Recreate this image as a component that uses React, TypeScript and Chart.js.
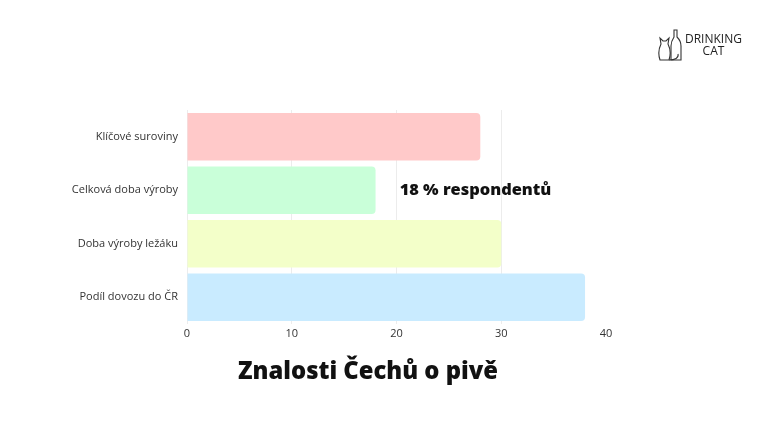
import React, { useEffect, useRef } from "react";
import { Chart, registerables } from "chart.js";

Chart.register(...registerables);

const categories = ["Klíčové suroviny", "Celková doba výroby", "Doba výroby ležáku", "Podíl dovozu do ČR"];
const values = [28, 18, 30, 38];
const barColors = ["#FFC9C9", "#C9FFD9", "#F3FFC9", "#C9EBFF"];
const xTicks = [0, 10, 20, 30, 40];
const annotationText = "18 % respondentů";
const annotationValue = 20.3;
const annotationCategory = 1;
const titleText = "Znalosti Čechů o pivě";

const FONT = "'Open Sans', sans-serif";

const overlayPlugin = {
  id: "overlay",
  afterDatasetsDraw(chart: any) {
    const { ctx, scales } = chart;
    const x = scales.x.getPixelForValue(annotationValue);
    const y = scales.y.getPixelForValue(annotationCategory);
    ctx.save();
    ctx.font = `800 16.4px ${FONT}`;
    ctx.fillStyle = "#111";
    ctx.textAlign = "left";
    ctx.textBaseline = "middle";
    ctx.fillText(annotationText, x, y);
    ctx.font = `800 23.8px ${FONT}`;
    ctx.textAlign = "center";
    ctx.fillText(titleText, 368, 372);
    ctx.restore();
  },
};

export default function App() {
  const ref = useRef<HTMLCanvasElement>(null);
  useEffect(() => {
    document.body.style.margin = "0";
    const chart = new Chart(ref.current!, {
      type: "bar",
      data: {
        labels: categories,
        datasets: [
          {
            data: values,
            backgroundColor: barColors,
            borderRadius: { topRight: 4, bottomRight: 4, topLeft: 0, bottomLeft: 0 },
            borderSkipped: false,
            barPercentage: 0.89,
            categoryPercentage: 1,
          },
        ],
      },
      options: {
        indexAxis: "y",
        animation: false,
        responsive: false,
        maintainAspectRatio: false,
        layout: { padding: { left: 0, right: 162, top: 110, bottom: 88 } },
        plugins: {
          legend: { display: false },
          tooltip: { enabled: false },
          title: { display: false },
        },
        scales: {
          x: {
            min: 0,
            max: 40,
            afterBuildTicks: (s: any) => {
              s.ticks = xTicks.map((v) => ({ value: v }));
            },
            afterFit: (s: any) => {
              s.height = 20;
            },
            grid: {
              color: (c: any) => (c.tick && c.tick.value === 40 ? "rgba(0,0,0,0)" : "#ececec"),
              drawTicks: false,
            },
            border: { display: false },
            ticks: {
              color: "#333",
              padding: 3,
              font: { family: FONT, size: 11 },
            },
          },
          y: {
            afterFit: (s: any) => {
              s.width = 187;
            },
            grid: { display: false, drawTicks: false },
            border: { display: false },
            ticks: {
              color: "#333",
              padding: 9,
              font: { family: FONT, size: 11 },
            },
          },
        },
      },
      plugins: [overlayPlugin],
    });
    return () => chart.destroy();
  }, []);

  return (
    <div style={{ position: "fixed", left: 0, top: 0, width: 768, height: 432, background: "#fff" }}>
      <canvas ref={ref} width={768} height={432} style={{ display: "block" }} />
      <div style={{ position: "absolute", left: 657, top: 28, display: "flex", alignItems: "center" }}>
        <svg width="28" height="34" viewBox="0 0 28 34" fill="none" stroke="#333" strokeWidth="1.1">
          <path d="M3 32 C1 26 2 20 4 16 L3 10 L6 13 L9 13 L12 10 L11 16 C13 20 14 26 12 32 Z" />
          <path d="M17 2 L20 2 L20 9 C23 12 24 15 24 18 L24 32 L14 32 L14 18 C14 15 15 12 17 9 Z" />
          <path d="M12 32 C18 32 22 30 21 26" />
        </svg>
        <div style={{ fontFamily: FONT, fontSize: 12, lineHeight: "12px", color: "#222", textAlign: "center" }}>
          DRINKING
          <br />
          CAT
        </div>
      </div>
    </div>
  );
}
